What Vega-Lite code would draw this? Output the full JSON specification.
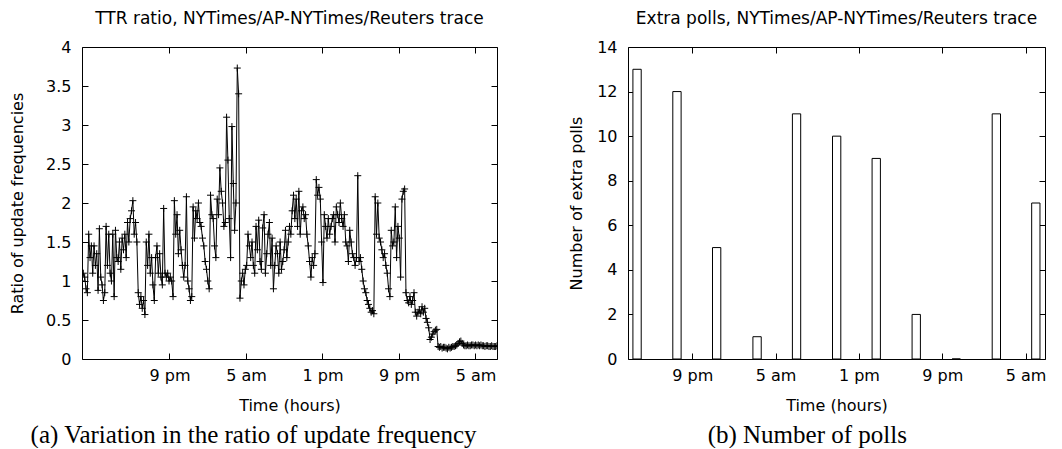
{
  "$schema": "https://vega.github.io/schema/vega-lite/v6.json",
  "background": "white",
  "padding": {"left": 9, "top": 9, "right": 5, "bottom": 0},
  "config": {
    "font": "DejaVu Sans",
    "view": {"stroke": "black", "strokeWidth": 1},
    "axis": {"grid": false, "domain": false, "tickColor": "black", "tickSize": -6, "tickWidth": 1,
      "labelFont": "DejaVu Sans", "labelFontSize": 16, "labelColor": "black", "labelPadding": 14,
      "titleFont": "DejaVu Sans", "titleFontSize": 16, "titleFontWeight": "normal", "titleColor": "black"},
    "axisY": {"labelPadding": 17},
    "title": {"font": "DejaVu Sans", "fontSize": 17, "fontWeight": "normal", "color": "black"},
    "concat": {"spacing": 70}
  },
  "datasets": {
    "ttr": [
      {"t":11.85,"r":1.0},{"t":11.99,"r":1.1},{"t":12.13,"r":1.05},{"t":12.27,"r":0.9},{"t":12.41,"r":0.85},{"t":12.55,"r":1.6},{"t":12.69,"r":1.3},{"t":12.83,"r":1.45},{"t":12.97,"r":1.1},{"t":13.11,"r":1.45},
      {"t":13.25,"r":1.2},{"t":13.39,"r":1.35},{"t":13.53,"r":0.88},{"t":13.67,"r":1.67},{"t":13.81,"r":1.05},{"t":13.95,"r":0.95},{"t":14.09,"r":0.75},{"t":14.23,"r":0.85},{"t":14.37,"r":1.7},{"t":14.51,"r":1.2},
      {"t":14.65,"r":1.6},{"t":14.79,"r":1.1},{"t":14.93,"r":1.0},{"t":15.07,"r":1.6},{"t":15.21,"r":0.8},{"t":15.35,"r":1.65},{"t":15.49,"r":1.3},{"t":15.63,"r":1.25},{"t":15.77,"r":1.5},{"t":15.91,"r":1.15},
      {"t":16.05,"r":1.55},{"t":16.19,"r":1.4},{"t":16.33,"r":1.6},{"t":16.47,"r":1.3},{"t":16.61,"r":1.75},{"t":16.75,"r":1.5},{"t":16.89,"r":1.8},{"t":17.03,"r":1.9},{"t":17.17,"r":2.03},{"t":17.31,"r":1.6},
      {"t":17.45,"r":1.75},{"t":17.59,"r":1.5},{"t":17.73,"r":0.85},{"t":17.87,"r":0.7},{"t":18.01,"r":0.8},{"t":18.15,"r":0.65},{"t":18.29,"r":0.75},{"t":18.43,"r":0.57},{"t":18.57,"r":1.5},{"t":18.71,"r":1.2},
      {"t":18.85,"r":1.6},{"t":18.99,"r":1.1},{"t":19.13,"r":1.3},{"t":19.27,"r":0.95},{"t":19.41,"r":0.75},{"t":19.55,"r":1.3},{"t":19.69,"r":1.45},{"t":19.83,"r":1.1},{"t":19.97,"r":1.35},{"t":20.11,"r":1.05},
      {"t":20.25,"r":0.95},{"t":20.39,"r":1.93},{"t":20.53,"r":1.1},{"t":20.67,"r":1.05},{"t":20.81,"r":1.1},{"t":20.95,"r":1.0},{"t":21.09,"r":1.05},{"t":21.23,"r":1.0},{"t":21.37,"r":0.8},{"t":21.51,"r":2.03},
      {"t":21.65,"r":1.6},{"t":21.79,"r":1.85},{"t":21.93,"r":1.35},{"t":22.07,"r":1.65},{"t":22.21,"r":1.4},{"t":22.35,"r":1.2},{"t":22.49,"r":1.05},{"t":22.63,"r":1.2},{"t":22.77,"r":2.08},{"t":22.91,"r":1.0},
      {"t":23.05,"r":0.9},{"t":23.19,"r":0.75},{"t":23.33,"r":0.8},{"t":23.47,"r":1.95},{"t":23.61,"r":1.55},{"t":23.75,"r":1.9},{"t":23.89,"r":1.8},{"t":24.03,"r":2.0},{"t":24.17,"r":1.75},{"t":24.31,"r":1.7},
      {"t":24.45,"r":1.55},{"t":24.59,"r":1.45},{"t":24.73,"r":1.25},{"t":24.87,"r":1.15},{"t":25.01,"r":1.0},{"t":25.15,"r":0.9},{"t":25.29,"r":2.1},{"t":25.43,"r":1.85},{"t":25.57,"r":1.8},{"t":25.71,"r":1.45},
      {"t":25.85,"r":1.3},{"t":25.99,"r":2.05},{"t":26.13,"r":1.85},{"t":26.27,"r":2.45},{"t":26.41,"r":2.15},{"t":26.55,"r":2.0},{"t":26.69,"r":1.7},{"t":26.83,"r":1.75},{"t":26.97,"r":3.1},{"t":27.11,"r":2.55},
      {"t":27.25,"r":1.8},{"t":27.39,"r":1.3},{"t":27.53,"r":2.98},{"t":27.67,"r":2.25},{"t":27.81,"r":1.65},{"t":27.95,"r":2.0},{"t":28.09,"r":3.73},{"t":28.23,"r":3.4},{"t":28.37,"r":0.78},{"t":28.51,"r":1.0},
      {"t":28.65,"r":1.1},{"t":28.79,"r":0.95},{"t":28.93,"r":1.15},{"t":29.07,"r":1.2},{"t":29.21,"r":1.6},{"t":29.35,"r":1.45},{"t":29.49,"r":1.3},{"t":29.63,"r":1.5},{"t":29.77,"r":1.2},{"t":29.91,"r":1.1},
      {"t":30.05,"r":1.7},{"t":30.19,"r":1.4},{"t":30.33,"r":1.78},{"t":30.47,"r":1.25},{"t":30.61,"r":1.15},{"t":30.75,"r":1.68},{"t":30.89,"r":1.85},{"t":31.03,"r":1.1},{"t":31.17,"r":1.35},{"t":31.31,"r":1.6},
      {"t":31.45,"r":1.75},{"t":31.59,"r":1.2},{"t":31.73,"r":1.55},{"t":31.87,"r":0.9},{"t":32.01,"r":1.2},{"t":32.15,"r":1.45},{"t":32.29,"r":1.35},{"t":32.43,"r":1.1},{"t":32.57,"r":1.5},{"t":32.71,"r":1.15},
      {"t":32.85,"r":1.25},{"t":32.99,"r":1.4},{"t":33.13,"r":1.65},{"t":33.27,"r":1.3},{"t":33.41,"r":1.5},{"t":33.55,"r":1.7},{"t":33.69,"r":1.6},{"t":33.83,"r":1.9},{"t":33.97,"r":2.1},{"t":34.11,"r":1.8},
      {"t":34.25,"r":2.05},{"t":34.39,"r":1.7},{"t":34.53,"r":2.15},{"t":34.67,"r":1.6},{"t":34.81,"r":1.9},{"t":34.95,"r":1.95},{"t":35.09,"r":1.8},{"t":35.23,"r":1.85},{"t":35.37,"r":1.6},{"t":35.51,"r":1.45},
      {"t":35.65,"r":1.25},{"t":35.79,"r":1.05},{"t":35.93,"r":1.3},{"t":36.07,"r":1.2},{"t":36.21,"r":1.35},{"t":36.35,"r":2.3},{"t":36.49,"r":2.1},{"t":36.63,"r":2.2},{"t":36.77,"r":2.05},{"t":36.91,"r":1.5},
      {"t":37.05,"r":0.98},{"t":37.19,"r":1.85},{"t":37.33,"r":1.7},{"t":37.47,"r":1.55},{"t":37.61,"r":1.8},{"t":37.75,"r":1.6},{"t":37.89,"r":1.7},{"t":38.03,"r":1.8},{"t":38.17,"r":1.85},{"t":38.31,"r":1.5},
      {"t":38.45,"r":1.95},{"t":38.59,"r":1.85},{"t":38.73,"r":1.75},{"t":38.87,"r":2.0},{"t":39.01,"r":1.8},{"t":39.15,"r":1.7},{"t":39.29,"r":1.85},{"t":39.43,"r":1.5},{"t":39.57,"r":1.45},{"t":39.71,"r":1.25},
      {"t":39.85,"r":1.65},{"t":39.99,"r":1.5},{"t":40.13,"r":1.35},{"t":40.27,"r":1.3},{"t":40.41,"r":1.2},{"t":40.55,"r":1.3},{"t":40.69,"r":2.35},{"t":40.83,"r":1.25},{"t":40.97,"r":1.3},{"t":41.11,"r":1.15},
      {"t":41.25,"r":1.0},{"t":41.39,"r":0.9},{"t":41.53,"r":0.85},{"t":41.67,"r":0.75},{"t":41.81,"r":0.7},{"t":41.95,"r":0.65},{"t":42.09,"r":0.6},{"t":42.23,"r":0.62},{"t":42.37,"r":0.58},{"t":42.51,"r":2.08},
      {"t":42.65,"r":1.6},{"t":42.79,"r":2.0},{"t":42.93,"r":1.55},{"t":43.07,"r":1.5},{"t":43.21,"r":1.4},{"t":43.35,"r":1.3},{"t":43.49,"r":1.35},{"t":43.63,"r":1.2},{"t":43.77,"r":1.1},{"t":43.91,"r":0.9},
      {"t":44.05,"r":0.8},{"t":44.19,"r":1.65},{"t":44.33,"r":1.45},{"t":44.47,"r":1.5},{"t":44.61,"r":1.95},{"t":44.75,"r":1.3},{"t":44.89,"r":1.7},{"t":45.03,"r":1.55},{"t":45.17,"r":1.05},{"t":45.31,"r":2.05},
      {"t":45.45,"r":2.15},{"t":45.59,"r":2.18},{"t":45.73,"r":0.85},{"t":45.87,"r":0.75},{"t":46.01,"r":0.72},{"t":46.15,"r":0.8},{"t":46.29,"r":0.7},{"t":46.43,"r":0.75},{"t":46.57,"r":0.85},{"t":46.71,"r":0.6},
      {"t":46.85,"r":0.55},{"t":46.99,"r":0.6},{"t":47.13,"r":0.63},{"t":47.27,"r":0.58},{"t":47.41,"r":0.67},{"t":47.55,"r":0.6},{"t":47.69,"r":0.65},{"t":47.83,"r":0.52},{"t":47.97,"r":0.47},{"t":48.11,"r":0.4},
      {"t":48.25,"r":0.25},{"t":48.39,"r":0.28},{"t":48.53,"r":0.32},{"t":48.67,"r":0.35},{"t":48.81,"r":0.37},{"t":48.95,"r":0.38},{"t":49.09,"r":0.16},{"t":49.23,"r":0.15},{"t":49.37,"r":0.16},{"t":49.51,"r":0.14},
      {"t":49.65,"r":0.15},{"t":49.79,"r":0.15},{"t":49.93,"r":0.14},{"t":50.07,"r":0.13},{"t":50.21,"r":0.15},{"t":50.35,"r":0.14},{"t":50.49,"r":0.15},{"t":50.63,"r":0.16},{"t":50.77,"r":0.16},{"t":50.91,"r":0.17},
      {"t":51.05,"r":0.18},{"t":51.19,"r":0.2},{"t":51.33,"r":0.22},{"t":51.47,"r":0.23},{"t":51.61,"r":0.2},{"t":51.75,"r":0.18},{"t":51.89,"r":0.17},{"t":52.03,"r":0.17},{"t":52.17,"r":0.18},{"t":52.31,"r":0.17},
      {"t":52.45,"r":0.17},{"t":52.59,"r":0.18},{"t":52.73,"r":0.18},{"t":52.87,"r":0.17},{"t":53.01,"r":0.18},{"t":53.15,"r":0.17},{"t":53.29,"r":0.18},{"t":53.43,"r":0.17},{"t":53.57,"r":0.18},{"t":53.71,"r":0.17},
      {"t":53.85,"r":0.17},{"t":53.99,"r":0.16},{"t":54.13,"r":0.17},{"t":54.27,"r":0.17},{"t":54.41,"r":0.16},{"t":54.55,"r":0.16},{"t":54.69,"r":0.17},{"t":54.83,"r":0.16},{"t":54.97,"r":0.16},{"t":55.11,"r":0.16},
      {"t":55.25,"r":0.17}
    ],
    "polls": [
      {"t":15.70,"n":13},{"t":19.53,"n":12},{"t":23.34,"n":5},{"t":27.22,"n":1},{"t":31.01,"n":11},{"t":34.86,"n":10},
      {"t":38.66,"n":9},{"t":42.50,"n":2},{"t":46.34,"n":0},{"t":50.19,"n":11},{"t":53.98,"n":7}
    ]
  },
  "hconcat": [
    {
      "title": {"text": "(a) Variation in the ratio of update frequency", "orient": "bottom", "font": "Liberation Serif", "fontSize": 25, "anchor": "middle", "frame": "bounds", "offset": 9},
      "vconcat": [
        {
          "title": {"text": "TTR ratio, NYTimes/AP-NYTimes/Reuters trace", "anchor": "middle", "frame": "group", "offset": 11},
          "width": 415,
          "height": 312,
          "data": {"name": "ttr"},
          "layer": [
            {
              "mark": {"type": "line", "color": "black", "strokeWidth": 1, "clip": true},
              "encoding": {
                "x": {"field": "t", "type": "quantitative", "scale": {"domain": [11.85, 55.25], "nice": false, "zero": false},
                  "axis": {"values": [21, 29, 37, 45, 53], "title": "Time (hours)", "titlePadding": 14,
                    "labelExpr": "datum.value == 21 || datum.value == 45 ? '9 pm' : (datum.value == 29 || datum.value == 53 ? '5 am' : '1 pm')"}},
                "y": {"field": "r", "type": "quantitative", "scale": {"domain": [0, 4], "nice": false},
                  "axis": {"values": [0, 0.5, 1, 1.5, 2, 2.5, 3, 3.5, 4], "format": "~g", "title": "Ratio of update frequencies", "titlePadding": 20}}
              }
            },
            {
              "mark": {"type": "point", "shape": "M-1,0L1,0M0,-1L0,1", "size": 49, "filled": false, "stroke": "black", "strokeWidth": 1, "opacity": 1, "clip": true},
              "encoding": {
                "x": {"field": "t", "type": "quantitative", "axis": {"orient": "top", "values": [21, 29, 37, 45, 53], "labels": false, "title": null}},
                "y": {"field": "r", "type": "quantitative", "axis": {"orient": "right", "values": [0, 0.5, 1, 1.5, 2, 2.5, 3, 3.5, 4], "labels": false, "title": null}}
              }
            }
          ],
          "resolve": {"axis": {"x": "independent", "y": "independent"}}
        }
      ]
    },
    {
      "title": {"text": "(b) Number of polls", "orient": "bottom", "font": "Liberation Serif", "fontSize": 25, "anchor": "middle", "frame": "bounds", "offset": 9},
      "vconcat": [
        {
          "title": {"text": "Extra polls, NYTimes/AP-NYTimes/Reuters trace", "anchor": "middle", "frame": "group", "offset": 11},
          "width": 417,
          "height": 312,
          "data": {"name": "polls"},
          "layer": [
            {
              "mark": {"type": "bar", "size": 8.3, "fill": "white", "stroke": "black", "strokeWidth": 1, "clip": true},
              "encoding": {
                "x": {"field": "t", "type": "quantitative", "scale": {"domain": [15.31, 54.38], "nice": false, "zero": false},
                  "axis": {"values": [21, 29, 37, 45, 53], "title": "Time (hours)", "titlePadding": 14,
                    "labelExpr": "datum.value == 21 || datum.value == 45 ? '9 pm' : (datum.value == 29 || datum.value == 53 ? '5 am' : '1 pm')"}},
                "y": {"field": "n", "type": "quantitative", "scale": {"domain": [0, 14], "nice": false},
                  "axis": {"values": [0, 2, 4, 6, 8, 10, 12, 14], "title": "Number of extra polls", "titlePadding": 12}}
              }
            },
            {
              "mark": {"type": "point", "opacity": 0},
              "encoding": {
                "x": {"field": "t", "type": "quantitative", "axis": {"orient": "top", "values": [21, 29, 37, 45, 53], "labels": false, "title": null}},
                "y": {"field": "n", "type": "quantitative", "axis": {"orient": "right", "values": [0, 2, 4, 6, 8, 10, 12, 14], "labels": false, "title": null}}
              }
            }
          ],
          "resolve": {"axis": {"x": "independent", "y": "independent"}}
        }
      ]
    }
  ]
}
